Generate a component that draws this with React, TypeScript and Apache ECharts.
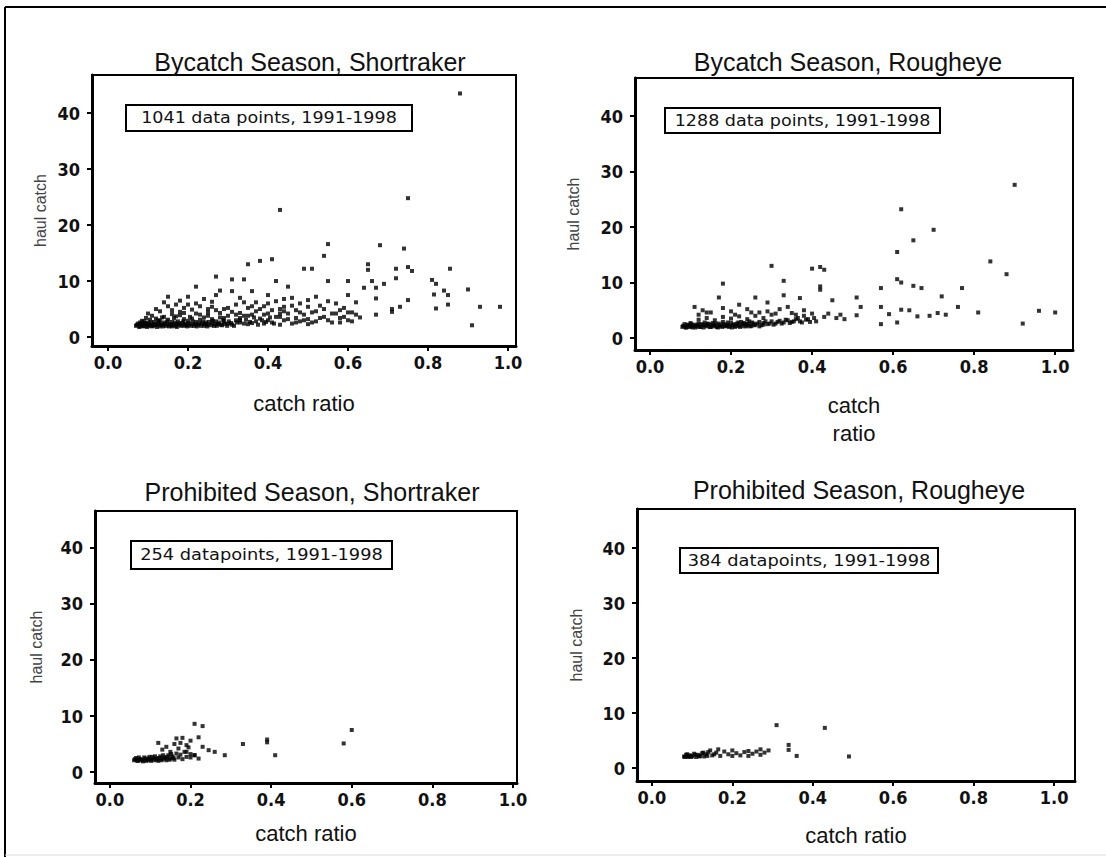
import React, { useEffect, useRef } from "react";
import * as echarts from "echarts";

// ---- data (catch ratio, haul catch) ----
const shortrakerBycatch: number[][] = [
  [0.07,2.0],[0.075,2.4],[0.08,1.9],[0.08,2.6],[0.085,2.2],[0.09,1.9],[0.09,2.8],[0.095,2.3],[0.1,2.0],[0.1,2.6],
  [0.105,3.1],[0.11,2.2],[0.11,1.9],[0.115,2.7],[0.12,2.1],[0.12,3.3],[0.125,2.4],[0.13,1.9],[0.13,2.9],[0.135,2.2],
  [0.14,2.6],[0.14,3.6],[0.145,2.0],[0.15,2.4],[0.15,3.1],[0.155,2.1],[0.16,2.7],[0.16,1.9],[0.165,3.4],[0.17,2.3],
  [0.17,2.0],[0.175,2.8],[0.18,2.2],[0.18,3.9],[0.185,2.5],[0.19,2.0],[0.19,3.2],[0.195,2.4],[0.2,2.1],[0.2,2.9],
  [0.205,3.6],[0.21,2.3],[0.215,2.0],[0.22,2.7],[0.22,4.2],[0.225,2.2],[0.23,3.1],[0.235,2.4],[0.24,2.0],[0.24,3.5],
  [0.245,2.6],[0.25,2.2],[0.25,4.4],[0.26,2.5],[0.26,3.2],[0.265,2.0],[0.27,2.8],[0.27,4.8],[0.275,2.3],[0.28,3.5],
  [0.285,2.1],[0.29,2.7],[0.29,5.0],[0.3,2.4],[0.3,3.8],[0.085,2.9],[0.095,3.4],[0.105,2.1],[0.125,3.0],[0.135,3.5],
  [0.072,2.2],[0.078,1.8],[0.082,2.3],[0.088,2.0],[0.092,2.5],[0.098,1.8],[0.102,2.3],[0.108,2.6],[0.112,2.0],[0.118,2.3],
  [0.122,1.8],[0.128,2.6],[0.132,2.2],[0.138,1.9],[0.142,2.3],[0.148,2.8],[0.152,1.9],[0.158,2.3],[0.162,2.1],[0.168,2.6],
  [0.172,1.8],[0.178,2.4],[0.182,2.0],[0.188,2.8],[0.192,2.2],[0.198,1.9],[0.202,2.5],[0.208,2.0],[0.212,2.8],[0.218,2.3],
  [0.222,1.9],[0.228,2.5],[0.232,2.0],[0.238,2.8],[0.242,2.3],[0.248,1.9],[0.252,2.7],[0.258,2.1],[0.262,2.9],[0.268,2.3],
  [0.272,2.0],[0.278,2.6],[0.282,2.2],[0.288,3.0],[0.292,2.3],[0.298,2.0],[0.302,2.8],[0.308,2.5],[0.315,2.0],[0.322,2.6],
  [0.33,3.4],[0.34,2.4],[0.345,3.1],[0.355,2.7],[0.365,3.5],[0.375,2.2],[0.385,3.0],[0.395,2.7],[0.405,3.5],[0.415,2.4],
  [0.1,4.2],[0.12,5.0],[0.13,4.6],[0.14,6.2],[0.15,5.5],[0.15,7.2],[0.16,4.8],[0.17,5.8],[0.18,6.5],[0.19,5.2],
  [0.2,7.2],[0.21,4.9],[0.22,6.0],[0.22,9.0],[0.23,5.5],[0.24,6.8],[0.25,5.0],[0.26,6.3],[0.27,7.5],[0.28,8.3],
  [0.27,10.8],[0.11,3.8],[0.16,4.1],[0.18,4.5],[0.2,5.8],[0.23,4.0],[0.26,5.4],[0.28,4.3],
  [0.25,3.8],[0.21,3.3],[0.19,4.3],[0.17,3.7],[0.29,3.4],[0.3,5.2],
  [0.31,2.2],[0.31,4.5],[0.31,10.3],[0.31,8.2],[0.32,3.0],[0.32,5.8],[0.33,2.6],[0.33,7.0],[0.34,3.8],[0.34,10.3],
  [0.35,2.3],[0.35,5.2],[0.35,13.0],[0.36,4.0],[0.36,8.2],[0.37,2.8],[0.37,6.2],[0.38,3.3],[0.38,13.6],[0.39,2.4],
  [0.39,5.5],[0.4,4.2],[0.4,7.5],[0.41,2.6],[0.41,13.9],[0.42,3.6],[0.42,6.4],[0.42,10.0],[0.43,2.2],[0.43,5.0],
  [0.43,22.7],[0.44,3.0],[0.44,6.8],[0.45,4.2],[0.45,9.0],[0.46,2.4],[0.46,5.6],[0.47,3.4],[0.47,4.8],[0.48,2.8],
  [0.48,6.0],[0.49,12.2],[0.49,4.0],[0.5,3.2],[0.5,5.4],[0.51,12.2],[0.51,2.6],[0.52,4.6],[0.52,7.2],[0.53,3.4],
  [0.54,14.5],[0.54,5.0],[0.55,16.6],[0.55,10.0],[0.55,3.0],[0.56,4.2],[0.57,6.0],[0.58,2.6],[0.58,4.8],[0.59,3.6],
  [0.6,10.0],[0.6,7.5],[0.6,3.0],[0.61,4.4],[0.33,4.3],[0.36,2.5],[0.38,5.0],[0.4,3.0],[0.44,4.6],[0.5,2.3],
  [0.32,4.0],[0.34,6.2],[0.36,5.5],[0.37,4.6],[0.39,4.0],[0.4,6.0],[0.41,4.8],[0.43,3.6],[0.44,5.4],[0.45,3.2],
  [0.46,7.0],[0.47,2.6],[0.48,4.4],[0.49,3.0],[0.5,6.6],[0.51,4.4],[0.52,2.8],[0.53,5.6],[0.54,3.6],[0.55,6.4],
  [0.56,2.6],[0.57,4.2],[0.58,3.4],[0.59,5.2],[0.6,4.4],[0.61,2.8],[0.62,4.0],[0.33,3.0],[0.35,3.8],[0.43,4.2],
  [0.64,8.8],[0.65,13.0],[0.65,12.0],[0.66,10.0],[0.67,8.8],[0.67,6.9],[0.67,4.0],[0.68,16.4],[0.69,9.5],[0.71,5.0],
  [0.71,4.5],[0.72,12.2],[0.72,10.5],[0.73,5.4],[0.74,15.8],[0.75,24.8],[0.75,12.5],[0.75,6.6],[0.76,11.8],[0.81,10.2],
  [0.82,9.5],[0.815,7.6],[0.82,5.1],[0.84,8.3],[0.85,7.5],[0.855,12.2],[0.85,5.8],[0.88,43.5],[0.9,8.5],[0.91,2.1],
  [0.93,5.4],[0.98,5.4],[0.63,3.5],[0.62,6.2]
];

const rougheyeBycatch: number[][] = [
  [0.08,2.0],[0.085,2.5],[0.09,1.9],[0.095,2.3],[0.1,2.1],[0.1,2.7],[0.105,1.9],[0.11,2.4],[0.115,2.1],[0.12,2.6],
  [0.125,2.0],[0.13,2.3],[0.135,2.8],[0.14,2.1],[0.145,2.5],[0.15,2.0],[0.155,2.7],[0.16,2.3],[0.165,2.0],[0.17,2.6],
  [0.175,2.2],[0.18,2.9],[0.185,2.1],[0.19,2.4],[0.195,2.0],[0.2,2.7],[0.205,2.3],[0.21,2.0],[0.215,2.6],[0.22,2.2],
  [0.225,2.9],[0.23,2.1],[0.235,2.5],[0.24,2.3],[0.245,3.0],[0.25,2.2],[0.255,2.6],[0.26,2.4],[0.27,2.9],[0.275,2.3],
  [0.28,2.7],[0.29,2.5],[0.3,3.0],[0.31,2.6],[0.32,3.1],[0.33,2.8],[0.34,3.2],[0.35,2.9],[0.36,3.4],[0.37,3.0],
  [0.082,2.2],[0.088,1.9],[0.092,2.4],[0.098,2.0],[0.102,2.5],[0.108,2.2],[0.112,1.9],[0.118,2.4],[0.122,2.0],[0.128,2.5],
  [0.132,1.9],[0.138,2.3],[0.142,2.6],[0.148,2.0],[0.152,2.4],[0.158,2.1],[0.162,2.6],[0.168,1.9],[0.172,2.3],[0.178,2.0],
  [0.182,2.5],[0.188,2.2],[0.192,2.8],[0.198,2.2],[0.202,1.9],[0.208,2.5],[0.212,2.2],[0.218,2.8],[0.222,2.0],[0.228,2.5],
  [0.232,2.7],[0.238,2.1],[0.242,2.6],[0.248,2.1],[0.252,2.8],[0.258,2.3],[0.265,2.6],[0.27,2.1],[0.28,2.4],[0.285,3.0],
  [0.295,2.6],[0.305,2.4],[0.315,2.9],[0.325,2.6],[0.335,3.3],[0.345,2.7],[0.355,3.0],[0.365,3.6],[0.375,2.8],[0.385,3.3],
  [0.395,2.9],[0.405,3.6],[0.35,4.5],[0.38,4.0],[0.32,5.2],[0.29,4.8],[0.25,4.6],[0.21,4.2],[0.14,4.6],[0.12,4.2],
  [0.12,3.3],[0.14,3.6],[0.16,3.2],[0.18,3.8],[0.2,3.5],[0.22,3.9],[0.24,3.4],[0.26,4.0],[0.28,3.6],[0.3,4.2],
  [0.11,5.6],[0.13,5.0],[0.15,4.6],[0.17,7.3],[0.18,5.4],[0.2,4.8],[0.22,6.0],[0.24,5.2],[0.26,7.3],[0.27,4.6],
  [0.29,6.4],[0.31,4.4],[0.33,7.7],[0.34,5.6],[0.36,4.2],[0.37,7.2],[0.38,5.0],[0.39,3.4],[0.4,4.4],[0.41,3.0],
  [0.18,9.8],[0.3,13.0],[0.33,10.3],[0.4,12.5],[0.42,12.8],[0.43,12.3],[0.42,9.3],[0.42,8.7],[0.43,3.8],[0.44,4.4],
  [0.45,6.8],[0.46,3.6],[0.47,4.2],[0.48,3.4],[0.51,7.3],[0.51,4.1],[0.52,5.6],[0.57,9.0],[0.57,5.6],[0.57,2.5],
  [0.59,4.3],[0.61,15.5],[0.61,10.6],[0.61,2.8],[0.62,23.2],[0.62,10.0],[0.62,5.1],[0.65,17.6],[0.65,9.4],[0.66,3.9],
  [0.67,9.0],[0.7,19.5],[0.71,4.5],[0.72,7.5],[0.73,4.2],[0.76,5.6],[0.77,9.0],[0.81,4.6],[0.84,13.8],[0.88,11.5],
  [0.9,27.6],[0.92,2.6],[0.96,4.9],[1.0,4.6],[0.64,5.0],[0.69,4.0]
];

const shortrakerProhibited: number[][] = [
  [0.06,2.1],[0.065,2.5],[0.07,2.0],[0.075,2.3],[0.08,2.1],[0.085,2.6],[0.09,2.0],[0.095,2.4],[0.1,2.2],[0.105,2.7],
  [0.11,2.1],[0.115,2.4],[0.12,2.0],[0.125,2.8],[0.13,2.3],[0.135,2.6],[0.14,2.1],[0.145,3.0],[0.15,2.4],[0.155,2.8],
  [0.16,2.2],[0.165,3.3],[0.17,2.6],[0.175,3.1],[0.18,2.3],[0.185,3.6],[0.19,2.7],[0.2,3.2],[0.21,3.0],[0.22,2.4],
  [0.062,2.3],[0.068,2.0],[0.072,2.6],[0.078,2.2],[0.082,1.9],[0.088,2.4],[0.092,2.1],[0.098,2.7],[0.102,2.0],[0.108,2.4],
  [0.112,2.8],[0.118,2.2],[0.122,2.5],[0.128,2.1],[0.132,3.0],[0.138,2.4],[0.142,2.7],[0.148,2.2],[0.152,3.2],[0.158,2.5],
  [0.17,4.2],[0.175,5.2],[0.19,3.6],[0.195,4.4],[0.2,2.6],
  [0.12,5.2],[0.13,4.0],[0.14,4.5],[0.15,3.6],[0.16,5.0],[0.165,6.0],[0.18,6.1],[0.19,4.8],[0.2,5.6],[0.21,3.0],
  [0.21,8.6],[0.22,6.2],[0.23,8.2],[0.23,4.5],[0.245,3.9],[0.26,3.6],[0.285,3.0],[0.33,5.0],[0.39,5.8],[0.39,5.3],
  [0.41,3.0],[0.58,5.1],[0.6,7.5]
];

const rougheyeProhibited: number[][] = [
  [0.08,2.1],[0.085,2.4],[0.09,2.0],[0.095,2.3],[0.1,2.2],[0.105,2.6],[0.11,2.0],[0.115,2.4],[0.12,2.2],[0.125,2.7],
  [0.13,2.1],[0.135,2.5],[0.14,2.9],[0.15,2.3],[0.16,2.8],[0.17,2.2],[0.18,3.0],[0.19,2.5],[0.2,2.2],[0.21,2.7],
  [0.22,2.3],[0.23,2.9],[0.24,2.2],[0.25,2.6],[0.26,3.0],[0.27,2.4],[0.28,2.8],[0.31,7.8],[0.34,4.2],[0.34,3.3],
  [0.082,2.0],[0.088,2.5],[0.092,2.2],[0.098,2.0],[0.108,2.4],[0.118,2.1],[0.128,2.8],[0.138,2.2],[0.145,3.2],[0.155,2.5],
  [0.165,3.4],[0.2,3.2],[0.24,3.1],[0.27,3.4],[0.29,3.2],
  [0.36,2.2],[0.43,7.3],[0.49,2.1]
];

const panelTitles = [
  "Bycatch Season, Shortraker",
  "Bycatch Season, Rougheye",
  "Prohibited Season, Shortraker",
  "Prohibited Season, Rougheye",
];
const noteTexts = [
  "1041 data points, 1991-1998",
  "1288 data points, 1991-1998",
  "254 datapoints, 1991-1998",
  "384 datapoints, 1991-1998",
];
const xTicks = [0, 0.2, 0.4, 0.6, 0.8, 1.0];
const yTicks = [0, 10, 20, 30, 40];
const xName = ["catch ratio", "catch\nratio", "catch ratio", "catch ratio"];
const yName = "haul catch";
const panels = [shortrakerBycatch, rougheyeBycatch, shortrakerProhibited, rougheyeProhibited];

// ---- layout ----
const grids = [
  { left: 92, top: 75, width: 424, height: 271, xmin: -0.04, xmax: 1.02, ymin: -1.6, ymax: 46.8 },
  { left: 635, top: 78, width: 438, height: 272, xmin: -0.037, xmax: 1.044, ymin: -2.16, ymax: 46.85 },
  { left: 95, top: 511, width: 422, height: 272, xmin: -0.037, xmax: 1.01, ymin: -1.96, ymax: 46.6 },
  { left: 637, top: 509, width: 438, height: 272, xmin: -0.037, xmax: 1.052, ymin: -2.36, ymax: 47.1 },
];
const titlePos = [[310, 62], [848, 62], [312, 492], [859, 490]];
const notePos = [
  [126, 105, 286, 26],
  [665, 108, 275, 25],
  [131, 541, 261, 28],
  [680, 548, 258, 25],
];
const noteScale = [1.3, 1.3, 1.32, 1.32];
const xNameGap = [43, 41, 36, 40];
const yNameGap = [44, 54, 51, 53];

const FONT = "'Liberation Sans Narrow', 'DejaVu Sans Condensed', 'Liberation Sans', sans-serif";
const TFONT = "'Liberation Sans', 'DejaVu Sans', sans-serif";

export default function App() {
  const ref = useRef<HTMLDivElement>(null);
  useEffect(() => {
    document.body.style.margin = "0";
    const chart = echarts.init(ref.current!, null, { renderer: "svg" });
    const graphic: any[] = [
      { type: "line", shape: { x1: 5, y1: 7, x2: 1106, y2: 7 }, style: { stroke: "#000", lineWidth: 2 } },
      { type: "line", shape: { x1: 5, y1: 7, x2: 5, y2: 857 }, style: { stroke: "#000", lineWidth: 2 } },
      { type: "line", shape: { x1: 5, y1: 855, x2: 1106, y2: 855 }, style: { stroke: "#ddd", lineWidth: 1 } },
    ];
    panelTitles.forEach((t, i) => {
      graphic.push({
        type: "text",
        x: titlePos[i][0],
        y: titlePos[i][1],
        style: { text: t, font: `25px ${TFONT}`, fill: "#111", align: "center", verticalAlign: "middle" },
      });
      const [nx, ny, nw, nh] = notePos[i];
      graphic.push({
        type: "rect",
        shape: { x: nx, y: ny, width: nw, height: nh },
        style: { fill: "#fff", stroke: "#000", lineWidth: 2 },
        z: 10,
      });
      graphic.push({
        type: "text",
        x: nx + nw / 2,
        y: ny + nh / 2,
        scaleX: noteScale[i],
        z: 11,
        style: { text: noteTexts[i], font: `15px ${FONT}`, fill: "#111", align: "center", verticalAlign: "middle" },
      });
    });

    const option: any = {
      animation: false,
      backgroundColor: "#fff",
      grid: grids.map((g) => ({
        left: g.left, top: g.top, width: g.width, height: g.height,
        show: true, borderColor: "#000", borderWidth: 2, backgroundColor: "transparent",
      })),
      xAxis: grids.map((g, i) => ({
        type: "value",
        gridIndex: i,
        min: g.xmin,
        max: g.xmax,
        name: xName[i],
        nameLocation: "middle",
        nameGap: xNameGap[i],
        nameTextStyle: { fontSize: 22, fontFamily: TFONT, color: "#111", lineHeight: 28 },
        axisLine: { show: true, onZero: false, lineStyle: { color: "#000", width: 3 } },
        axisTick: { show: true, customValues: xTicks, length: 5, lineStyle: { color: "#000", width: 2 } },
        axisLabel: {
          customValues: xTicks,
          formatter: (v: number) => v.toFixed(1),
          fontSize: 18, fontWeight: "bold", fontFamily: FONT, color: "#111", margin: 7,
        },
        splitLine: { show: false },
      })),
      yAxis: grids.map((g, i) => ({
        type: "value",
        gridIndex: i,
        min: g.ymin,
        max: g.ymax,
        name: yName,
        nameLocation: "middle",
        nameGap: yNameGap[i],
        nameTextStyle: { fontSize: 16, fontFamily: TFONT, color: "#444" },
        axisLine: { show: true, onZero: false, lineStyle: { color: "#000", width: 3 } },
        axisTick: { show: true, customValues: yTicks, length: 5, lineStyle: { color: "#000", width: 2 } },
        axisLabel: {
          customValues: yTicks,
          fontSize: 18, fontWeight: "bold", fontFamily: FONT, color: "#111", margin: 12,
        },
        splitLine: { show: false },
      })),
      series: panels.map((d, i) => ({
        type: "scatter",
        xAxisIndex: i,
        yAxisIndex: i,
        data: d,
        symbol: "rect",
        symbolSize: 4,
        itemStyle: { color: "#000" },
        silent: true,
      })),
      graphic,
    };
    chart.setOption(option);
    return () => chart.dispose();
  }, []);
  return <div ref={ref} style={{ width: 1106, height: 857 }} />;
}
